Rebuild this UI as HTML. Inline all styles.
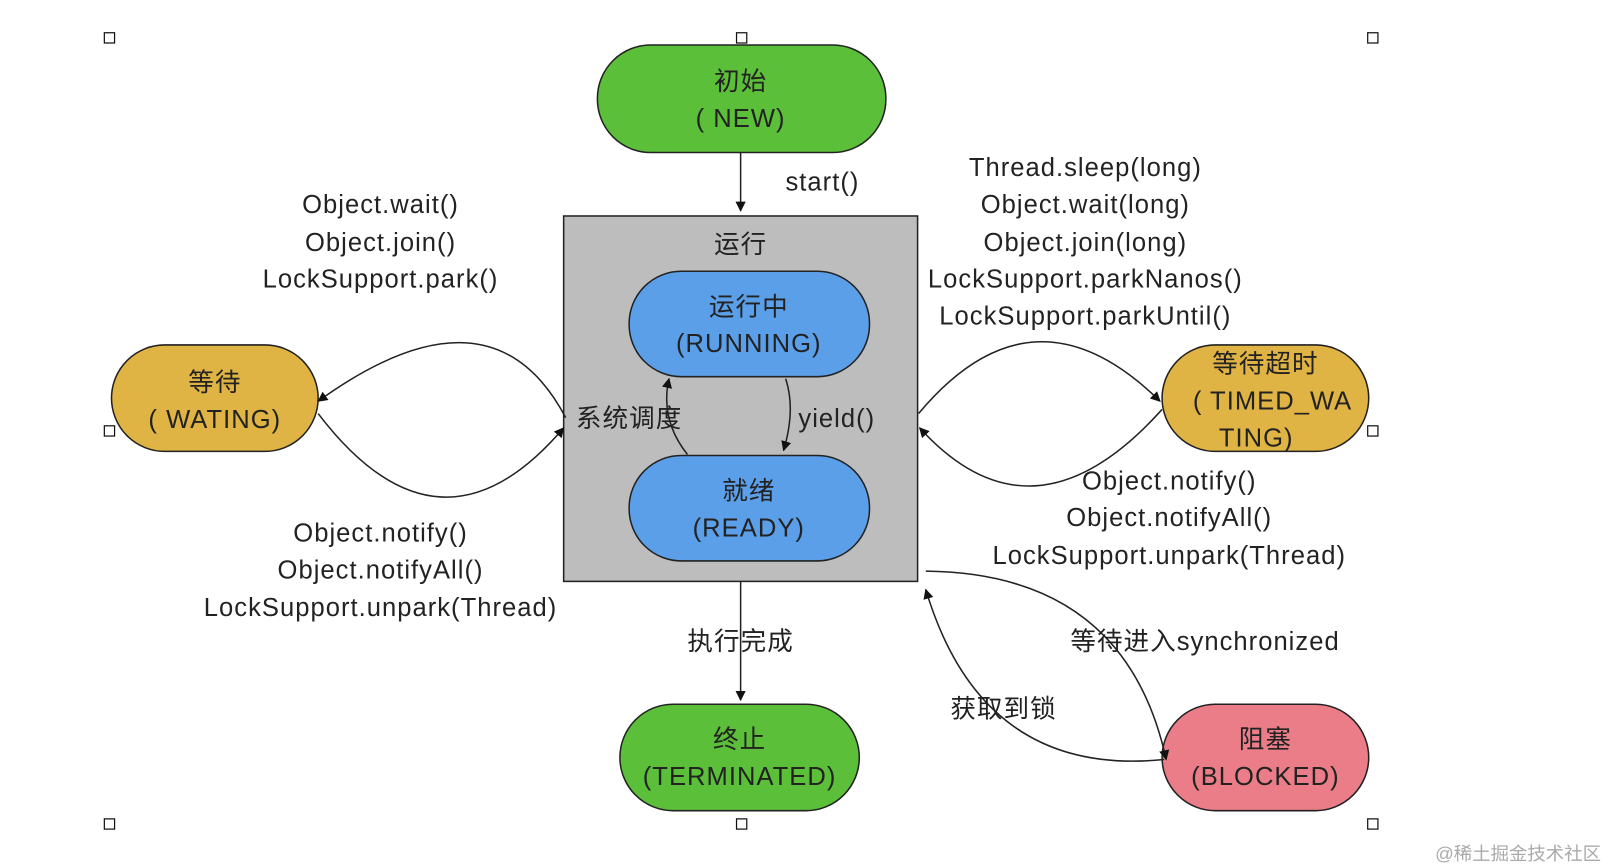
<!DOCTYPE html>
<html><head><meta charset="utf-8"><style>
html,body{margin:0;padding:0;background:#fff;}
svg{display:block}
text{font-family:"Liberation Sans","Noto Sans CJK SC",sans-serif;font-size:25px;letter-spacing:1px;fill:#222;text-anchor:middle}
</style></head><body>
<svg width="1604" height="868" viewBox="0 0 1568 848" preserveAspectRatio="none" xmlns="http://www.w3.org/2000/svg">
<defs><marker id="a" markerWidth="10" markerHeight="10" refX="9" refY="5" orient="auto" markerUnits="userSpaceOnUse"><path d="M0,0 L10,5 L0,10 z" fill="#111"/></marker></defs>
<g fill="#fff" stroke="#111" stroke-width="1.2">
<rect x="102" y="32" width="10" height="10"/><rect x="720" y="32" width="10" height="10"/><rect x="1337" y="32" width="10" height="10"/>
<rect x="102" y="416" width="10" height="10"/><rect x="1337" y="416" width="10" height="10"/>
<rect x="102" y="800" width="10" height="10"/><rect x="720" y="800" width="10" height="10"/><rect x="1337" y="800" width="10" height="10"/>
</g>
<rect x="551" y="211" width="346" height="357" fill="#bdbdbd" stroke="#222" stroke-width="1.5"/>
<g stroke="#222" stroke-width="1.5">
<rect x="584" y="44" width="282" height="105" rx="52" fill="#5cbf3a"/>
<rect x="606" y="688" width="234" height="104" rx="52" fill="#5cbf3a"/>
<rect x="615" y="265" width="235" height="103" rx="51" fill="#5b9fe8"/>
<rect x="615" y="445" width="235" height="103" rx="51" fill="#5b9fe8"/>
<rect x="109" y="337" width="202" height="104" rx="52" fill="#e0b444"/>
<rect x="1136" y="337" width="202" height="104" rx="52" fill="#e0b444"/>
<rect x="1136" y="688" width="202" height="104" rx="52" fill="#ea7d87"/>
</g>
<g fill="none" stroke="#222" stroke-width="1.5" marker-end="url(#a)">
<path d="M724,149 L724,206"/>
<path d="M724,568 L724,684"/>
<path d="M768,370 Q778,400 766,440"/>
<path d="M672,444 Q645,410 654,370"/>
<path d="M553,408 Q480,270 311,392"/>
<path d="M311,404 Q430,560 551,418"/>
<path d="M898,404 Q1010,270 1134,392"/>
<path d="M1136,400 Q1010,540 899,418"/>
<path d="M905,558 Q1100,560 1140,742"/>
<path d="M1138,742 Q960,760 905,576"/>
</g>
<text x="724" y="88">初始</text><text x="724" y="124">( NEW)</text>
<text x="804" y="186">start()</text>
<text x="724" y="247">运行</text>
<text x="732" y="308">运行中</text><text x="732" y="344">(RUNNING)</text>
<text x="732" y="488">就绪</text><text x="732" y="524">(READY)</text>
<text x="615" y="417">系统调度</text>
<text x="818" y="417">yield()</text>
<text x="210" y="382">等待</text><text x="210" y="418">( WATING)</text>
<text x="1237" y="364">等待超时</text><text x="1244" y="400">( TIMED_WA</text><text x="1228" y="436">TING)</text>
<text x="372" y="208">Object.wait()</text><text x="372" y="245">Object.join()</text><text x="372" y="281">LockSupport.park()</text>
<text x="372" y="529">Object.notify()</text><text x="372" y="565">Object.notifyAll()</text><text x="372" y="602">LockSupport.unpark(Thread)</text>
<text x="1061" y="172">Thread.sleep(long)</text><text x="1061" y="208">Object.wait(long)</text><text x="1061" y="245">Object.join(long)</text><text x="1061" y="281">LockSupport.parkNanos()</text><text x="1061" y="317">LockSupport.parkUntil()</text>
<text x="1143" y="478">Object.notify()</text><text x="1143" y="514">Object.notifyAll()</text><text x="1143" y="551">LockSupport.unpark(Thread)</text>
<text x="724" y="635">执行完成</text>
<text x="723" y="731">终止</text><text x="723" y="767">(TERMINATED)</text>
<text x="1178" y="635">等待进入synchronized</text>
<text x="981" y="701">获取到锁</text>
<text x="1237" y="731">阻塞</text><text x="1237" y="767">(BLOCKED)</text>
<text x="1484" y="840" style="font-size:18px;letter-spacing:0;fill:#aaa">@稀土掘金技术社区</text>
</svg>
</body></html>
